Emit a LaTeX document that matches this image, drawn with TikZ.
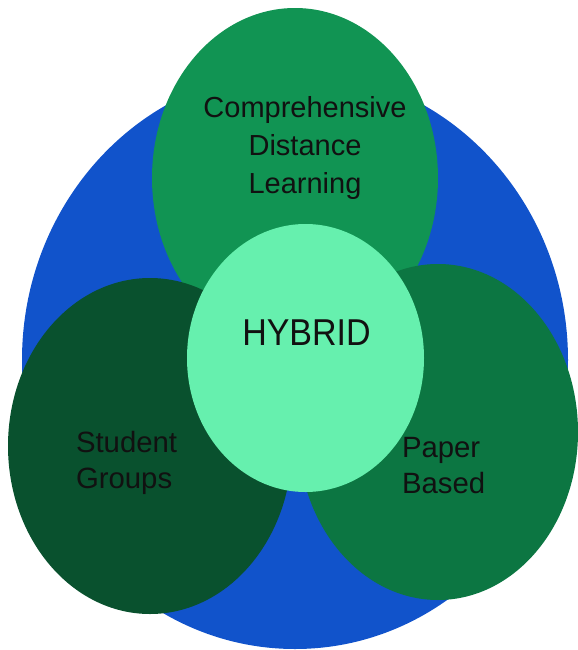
\documentclass[tikz,border=0pt]{standalone}
\usepackage{fontspec}
\setmainfont{Liberation Sans}
\usetikzlibrary{shapes.geometric}
\definecolor{bigblue}{HTML}{1153CB}
\definecolor{topgreen}{HTML}{119453}
\definecolor{leftgreen}{HTML}{09512E}
\definecolor{rightgreen}{HTML}{0C7642}
\definecolor{hybridgreen}{HTML}{66F0AE}
\definecolor{textcol}{HTML}{111111}
\begin{document}
\begin{tikzpicture}[x=0.75pt,y=-0.75pt,
  blob/.style={ellipse,draw=none,inner sep=0pt,outer sep=0pt},
  lbl/.style={text=textcol,inner sep=0pt,outer sep=0pt,font=\fontsize{21.75pt}{28.5pt}\selectfont},
  sidelbl/.style={lbl,align=left,font=\fontsize{22pt}{27pt}\selectfont}]
\useasboundingbox (0,0) rectangle (578,650);
\node[blob,fill=bigblue,minimum width=409.5pt,minimum height=433.5pt] (outer) at (295,360) {};
\node[blob,fill=topgreen,minimum width=214.5pt,minimum height=255pt] (cdl) at (295,178) {};
\node[blob,fill=leftgreen,minimum width=213pt,minimum height=252pt] (sg) at (150,446) {};
\node[blob,fill=rightgreen,minimum width=210pt,minimum height=252pt] (pb) at (438,432) {};
\node[blob,fill=hybridgreen,minimum width=177.75pt,minimum height=201pt] (hyb) at (305.5,358) {};
\node[lbl,align=center,anchor=base] (cdltext) at (305,193) {Comprehensive\\Distance\\Learning};
\node[lbl,anchor=base,font=\fontsize{25.5pt}{30pt}\selectfont] (hybtext) at (306.5,345) {\scalebox{1}[1.1]{HYBRID}};
\node[sidelbl,anchor=base west] (sgtext) at (76,488) {Student\\Groups};
\node[sidelbl,anchor=base west] (pbtext) at (402,493) {Paper\\Based};
\end{tikzpicture}
\end{document}
